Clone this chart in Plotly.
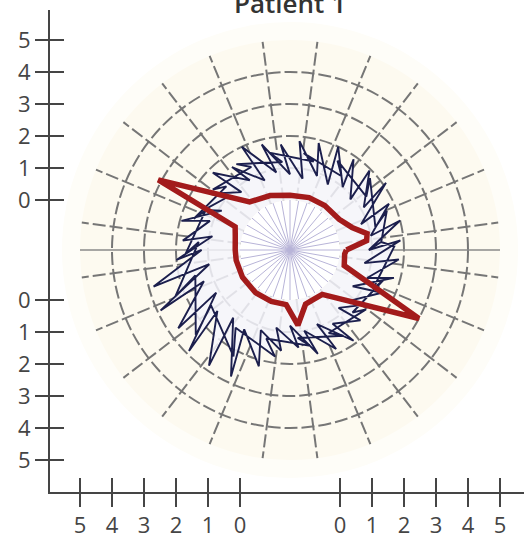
import plotly.graph_objects as go

# ---------------- data ----------------
title_text = "Patient 1"
axis_tick_labels = ["0", "1", "2", "3", "4", "5"]
radial_tick_values = [1, 2, 3, 4, 5]
spoke_angles = [7.5, 22.5, 37.5, 52.5, 67.5, 82.5, 97.5, 112.5, 127.5, 142.5, 157.5, 172.5,
                187.5, 202.5, 217.5, 232.5, 247.5, 262.5, 277.5, 292.5, 307.5, 322.5, 337.5, 352.5]
inner_spoke_angles = [0, 10, 20, 30, 40, 50, 60, 70, 80, 90, 100, 110, 120, 130, 140, 150, 160, 170,
                      180, 190, 200, 210, 220, 230, 240, 250, 260, 270, 280, 290, 300, 310, 320, 330, 340, 350]

navy_theta = [0, 15, 10, 25, 20, 35, 30, 45, 40, 55, 50, 65, 60, 75, 70, 85, 80, 95, 90, 105,
              100, 115, 110, 125, 120, 135, 130, 145, 140, 155, 150, 165, 160, 175, 170, 185,
              180, 195, 190, 205, 200, 215, 210, 225, 220, 235, 230, 245, 240, 255, 250, 265,
              260, 275, 270, 285, 280, 295, 290, 305, 300, 315, 310, 325, 320, 335, 330, 345,
              340, 355, 350, 5, 0,
              5, 22, 15, 42, 35, 62, 55, 82, 75, 102, 95, 122, 115, 142, 135, 162, 155, 182,
              175, 202, 195, 222, 215, 242, 235, 262, 255, 282, 275, 302, 295, 322, 315, 342,
              335, 362, 365]
navy_r = [0.9, 2.0, 1.0, 1.85, 0.8, 2.1, 1.1, 1.95, 0.9, 1.9, 1.0, 2.0, 0.8, 1.9, 0.9, 1.85,
          0.7, 1.75, 0.8, 1.85, 0.9, 2.0, 0.75, 1.6, 0.95, 1.85, 0.8, 1.5, 1.0, 1.4, 0.9, 1.95,
          1.1, 1.8, 0.9, 2.0, 1.2, 2.85, 1.0, 2.9, 1.3, 2.7, 1.1, 2.9, 1.4, 2.85, 1.2, 2.8,
          1.3, 2.2, 1.1, 1.6, 0.9, 1.5, 0.8, 1.8, 1.0, 1.85, 0.9, 1.9, 1.1, 1.55, 0.8, 1.4,
          0.9, 1.6, 0.7, 1.8, 1.0, 1.85, 0.8, 1.9, 0.9,
          1.3, 1.7, 1.2, 1.8, 1.35, 1.6, 1.25, 1.5, 1.3, 1.55, 1.2, 1.6, 1.3, 1.5, 1.25, 1.6,
          1.35, 1.7, 1.3, 2.3, 1.5, 2.4, 1.45, 2.2, 1.4, 1.8, 1.3, 1.5, 1.2, 1.6, 1.3, 1.45,
          1.2, 1.5, 1.3, 1.7, 1.3]

red_theta = [0, 7, 12, 20, 32, 52, 70, 90, 110, 130, 152, 157, 166, 180, 191, 210, 231, 250,
             266, 276, 286, 295, 306, 332, 344, 356, 360]
red_r = [0.2, 0.85, 0.9, 0.5, 0.25, 0.2, 0.18, 0.15, 0.25, 0.4, 3.1, 0.3, 0.2, 0.15, 0.15,
         0.15, 0.15, 0.15, 0.15, 0.8, 0.2, 0.15, 0.15, 3.0, 0.2, 0.15, 0.2]

# ---------------- layout geometry ----------------
W, H = 524, 540
CX, CY = 290, 250          # centre of the polar chart (px)
UNIT = 32                  # px per radial unit
HOLE_PX = 50               # radius of the hole (px)
R_MAX = 5
R_OUT = HOLE_PX + UNIT * R_MAX
AX_LEFT, AX_BOTTOM, AX_TOP = 50, 492, 10

NAVY = "#1c1f4d"
RED = "#a31b1b"
GRID = "#767676"
AXC = "#454545"


def dom(radius):
    return dict(x=[(CX - radius) / W, (CX + radius) / W],
                y=[(H - CY - radius) / H, (H - CY + radius) / H])


hole_u = HOLE_PX / UNIT
x_tickvals = [-(hole_u + int(t)) for t in axis_tick_labels] + [hole_u + int(t) for t in axis_tick_labels]
x_ticktext = axis_tick_labels + axis_tick_labels
y_tickvals = [hole_u + int(t) for t in axis_tick_labels] + [-(hole_u + int(t)) for t in axis_tick_labels]
y_ticktext = axis_tick_labels + axis_tick_labels

fig = go.Figure()

# empty traces to create the subplots
fig.add_trace(go.Scatter(x=[], y=[], xaxis="x", yaxis="y", showlegend=False))
fig.add_trace(go.Scatter(x=[], y=[], xaxis="x2", yaxis="y2", showlegend=False))
fig.add_trace(go.Scatterpolar(r=[], theta=[], subplot="polar", showlegend=False))
fig.add_trace(go.Scatterpolar(r=[], theta=[], subplot="polar2", showlegend=False))
fig.add_trace(go.Scatterpolar(r=[], theta=[], subplot="polar3", showlegend=False))
fig.add_trace(go.Scatterpolar(r=[], theta=[], subplot="polar4", showlegend=False))

fig.add_trace(go.Scatterpolar(
    r=navy_r, theta=navy_theta, subplot="polar5", mode="lines",
    line=dict(color=NAVY, width=1.9), fill="toself", fillcolor="rgba(244,245,252,0.85)",
    showlegend=False, hoverinfo="skip"))
fig.add_trace(go.Scatterpolar(
    r=red_r, theta=red_theta, subplot="polar5", mode="lines",
    line=dict(color=RED, width=5.5), showlegend=False, hoverinfo="skip"))

hidden_ang = dict(showgrid=False, showline=False, showticklabels=False, ticks="")
hidden_rad = dict(visible=False)

axis_font = dict(family="Open Sans", size=22, color=AXC)

fig.update_layout(
    width=W, height=H, autosize=False,
    margin=dict(l=0, r=0, t=0, b=0, pad=0, autoexpand=False),
    paper_bgcolor="white", plot_bgcolor="rgba(0,0,0,0)",
    showlegend=False,
    # halo
    polar=dict(domain=dom(R_OUT + 18), bgcolor="#fefdf8",
               angularaxis=hidden_ang, radialaxis=hidden_rad),
    # inner hub with fine spokes
    polar2=dict(domain=dom(HOLE_PX), bgcolor="white",
                angularaxis=dict(showgrid=True, gridcolor="#b8b4d8", gridwidth=1,
                                 tickmode="array", tickvals=inner_spoke_angles,
                                 showline=False, showticklabels=False, ticks=""),
                radialaxis=hidden_rad),
    # main grid
    polar3=dict(domain=dom(R_OUT), bgcolor="#fdfaf0", hole=HOLE_PX / R_OUT,
                angularaxis=dict(rotation=0, direction="counterclockwise",
                                 tickmode="array", tickvals=spoke_angles,
                                 showgrid=True, gridcolor=GRID, gridwidth=1.5,
                                 griddash="13px,4px",
                                 showline=False, showticklabels=False, ticks=""),
                radialaxis=dict(range=[0, R_MAX], angle=180, tickangle=0,
                                tickmode="array", tickvals=radial_tick_values,
                                showgrid=True, gridcolor=GRID, gridwidth=1.5,
                                griddash="13px,4px",
                                showline=True, linecolor="#8a8a8a", linewidth=1.6,
                                showticklabels=False, ticks="")),
    # right-hand radial line
    polar4=dict(domain=dom(R_OUT), bgcolor="rgba(0,0,0,0)", hole=HOLE_PX / R_OUT,
                angularaxis=dict(rotation=0, direction="counterclockwise", **hidden_ang),
                radialaxis=dict(range=[0, R_MAX], angle=0, showgrid=False,
                                showline=True, linecolor="#8a8a8a", linewidth=1.6,
                                showticklabels=False, ticks="")),
    # data layer
    polar5=dict(domain=dom(R_OUT), bgcolor="rgba(0,0,0,0)", hole=HOLE_PX / R_OUT,
                angularaxis=dict(rotation=0, direction="counterclockwise", **hidden_ang),
                radialaxis=dict(range=[0, R_MAX], showgrid=False, showline=False,
                                showticklabels=False, ticks="")),
    xaxis=dict(domain=[AX_LEFT / W, 1], anchor="y", automargin=False,
               range=[(AX_LEFT - CX) / UNIT, (W - CX) / UNIT],
               tickmode="array", tickvals=x_tickvals, ticktext=x_ticktext,
               ticks="outside", ticklen=13, tickwidth=2, tickcolor=AXC,
               showline=True, linecolor=AXC, linewidth=2,
               showgrid=False, zeroline=False, tickfont=axis_font),
    yaxis=dict(domain=[(H - AX_BOTTOM) / H, (H - AX_TOP) / H], anchor="x", automargin=False,
               range=[(CY - AX_BOTTOM) / UNIT, (CY - AX_TOP) / UNIT],
               tickmode="array", tickvals=y_tickvals, ticktext=y_ticktext,
               ticks="outside", ticklen=13, tickwidth=2, tickcolor=AXC,
               showline=True, linecolor=AXC, linewidth=2,
               showgrid=False, zeroline=False, tickfont=axis_font),
    xaxis2=dict(overlaying="x", anchor="y", automargin=False,
                range=[(AX_LEFT - CX) / UNIT, (W - CX) / UNIT],
                tickmode="array", tickvals=x_tickvals,
                ticks="inside", ticklen=14, tickwidth=2, tickcolor=AXC,
                showticklabels=False, showline=False, showgrid=False, zeroline=False),
    yaxis2=dict(overlaying="y", anchor="x", automargin=False,
                range=[(CY - AX_BOTTOM) / UNIT, (CY - AX_TOP) / UNIT],
                tickmode="array", tickvals=y_tickvals,
                ticks="inside", ticklen=14, tickwidth=2, tickcolor=AXC,
                showticklabels=False, showline=False, showgrid=False, zeroline=False),
    annotations=[dict(text=title_text, xref="paper", yref="paper",
                      x=CX / W, y=(H - 23) / H, xanchor="center", yanchor="bottom",
                      showarrow=False,
                      font=dict(family="Open Sans", size=26, color="#333333", weight=600))],
)

fig.write_html("out.html", config={"displayModeBar": False},
               post_script="document.body.style.margin='0';document.body.style.overflow='hidden';")
